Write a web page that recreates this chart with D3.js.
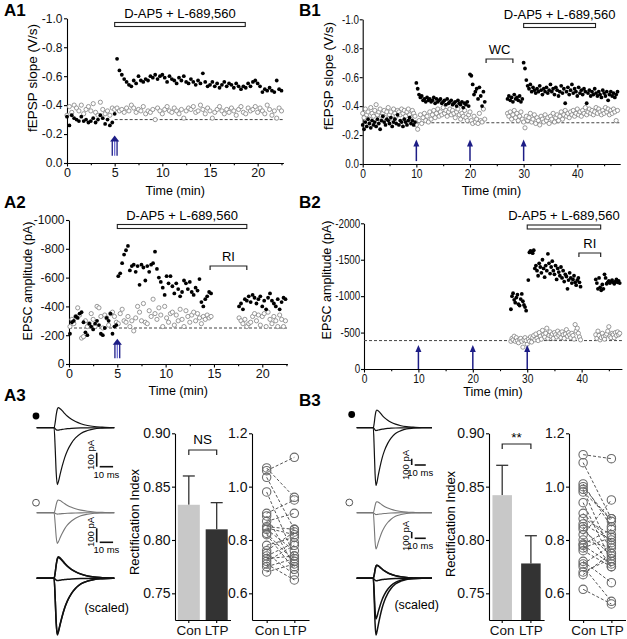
<!DOCTYPE html>
<html><head><meta charset="utf-8">
<script src="https://cdn.jsdelivr.net/npm/d3@7"></script>
<style>
body{margin:0;background:#fff;}
svg{display:block;}
</style></head><body>
<script>
// ================= DATA =================
// A1: fEPSP slope (V/s), sampled every 0.25 min from t=0
const a1T0 = 0, a1Dt = 0.25;
const a1Filled = [-.32,-.26,-.33,-.31,-.30,-.29,-.32,-.29,-.30,-.28,-.29,-.31,-.28,-.30,-.33,-.31,-.27,-.30,-.26,-.28,
 -.34,-.72,-.64,-.61,-.58,-.56,-.54,-.53,-.57,-.55,-.60,-.57,-.56,-.58,-.57,-.60,-.59,-.61,-.58,-.60,
 -.61,-.59,-.56,-.60,-.58,-.57,-.55,-.59,-.57,-.60,-.56,-.55,-.58,-.56,-.54,-.57,-.55,-.62,-.56,-.53,
 -.54,-.56,-.53,-.55,-.52,-.54,-.56,-.53,-.55,-.54,-.52,-.55,-.53,-.51,-.53,-.52,-.55,-.53,-.56,-.57,
 -.55,-.53,-.49,-.51,-.50,-.52,-.50,-.49,-.57,-.51,-.50];
const a1Open = [-.33,-.39,-.35,-.40,-.38,-.36,-.40,-.34,-.37,-.39,-.36,-.41,-.35,-.33,-.42,-.37,-.34,-.36,-.33,-.38,
 -.37,-.38,-.36,-.37,-.35,-.38,-.36,-.40,-.38,-.35,-.37,-.36,-.39,-.34,-.36,-.35,-.37,-.30,-.38,-.36,
 -.34,-.37,-.39,-.36,-.35,-.38,-.36,-.34,-.37,-.31,-.36,-.38,-.37,-.39,-.35,-.36,-.40,-.37,-.34,-.38,
 -.36,-.31,-.35,-.37,-.39,-.36,-.34,-.37,-.35,-.38,-.36,-.33,-.37,-.39,-.35,-.34,-.38,-.36,-.37,-.39,
 -.35,-.38,-.36,-.34,-.40,-.37,-.33,-.36,-.31,-.38,-.36];

// A2: EPSC amplitude (pA), sampled every 0.2 min
const a2Dt = 0.2;
const a2FilledPre = [-210,-290,-300,-330,-320,-350,-360,-290,-220,-200,-280,-260,-240,-280,-300,-270,-210,-200,-250,-320,-300,-350,-210,-260,-270];
const a2FilledPost = [-610,-630,-700,-760,-790,-820,-650,-680,-690,-640,-680,-550,-690,-670,-580,-680,-640,-690,-700,-780,
 -660,-600,-570,-530,-480,-610,-560,-610,-540,-490,-560,-520,-470,-500,-580,-560,-520,-570,-500,-480,
 -530,-510,-590,-430,-400,-450,-470,-500,-490];
const a2FilledLate = [-400,-420,-380,-450,-440,-470,-430,-480,-460,-420,-450,-470,-400,-440,-380,-460,-490,-440,-420,-400,-450,-380,-430,-460,-450];
const a2OpenPre = [-260,-310,-280,-330,-390,-340,-180,-190,-300,-260,-280,-350,-310,-260,-400,-390,-330,-250,-340,-320,-270,-350,-360,-330,-290];
const a2OpenPost = [-280,-350,-380,-300,-290,-330,-260,-300,-230,-320,-400,-360,-300,-420,-290,-280,-370,-330,-450,-350,
 -310,-390,-340,-260,-400,-320,-290,-350,-360,-270,-340,-300,-380,-310,-260,-370,-330,-290,-340,-360,
 -300,-350,-320,-280,-330,-310,-340,-320,-330];
const a2OpenLate = [-320,-300,-280,-310,-260,-280,-290,-330,-350,-300,-340,-270,-330,-350,-260,-360,-310,-280,-330,-300,-260,-340,-310,-260,-300];

// B1: fEPSP slope (V/s), sampled every 0.25 min; gap during whole-cell (WC) break-in
const b1Dt = 0.25;
const b1FilledEarly = [-.27,-.24,-.29,-.26,-.31,-.28,-.25,-.30,-.27,-.29,-.26,-.31,-.28,-.24,-.30,-.33,-.29,-.27,-.31,-.30,
 -.28,-.32,-.26,-.29,-.31,-.28,-.34,-.27,-.30,-.29,-.26,-.31,-.29,-.27,-.30,-.32,-.28,-.30,-.27,-.29,
 -.56,-.52,-.48,-.46,-.47,-.44,-.45,-.43,-.46,-.44,-.45,-.43,-.44,-.46,-.42,-.45,-.43,-.44,-.45,-.42,
 -.43,-.44,-.41,-.45,-.42,-.43,-.44,-.41,-.42,-.43,-.40,-.44,-.42,-.41,-.43,-.39,-.42,-.41,-.43,-.40,
 -.62,-.61,-.55,-.48,-.50,-.52,-.45,-.53,-.47,-.40,-.50,-.43];
const b1FilledLate = [-.45,-.47,-.44,-.46,-.43,-.48,-.45,-.46,-.44,-.47,-.43,-.45,
 -.70,-.66,-.58,-.54,-.52,-.55,-.50,-.53,-.51,-.49,-.52,-.50,-.54,-.51,-.48,-.52,-.50,-.53,-.49,-.51,
 -.55,-.50,-.52,-.48,-.53,-.51,-.47,-.50,-.54,-.49,-.52,-.42,-.50,-.53,-.48,-.51,-.55,-.49,-.52,-.50,
 -.47,-.53,-.49,-.51,-.48,-.52,-.50,-.42,-.49,-.51,-.47,-.50,-.48,-.52,-.49,-.47,-.50,-.48,-.46,-.51,
 -.49,-.47,-.50,-.44,-.48,-.50,-.47,-.49,-.46,-.48,-.50];
const b1OpenEarly = [-.35,-.32,-.38,-.34,-.36,-.31,-.39,-.35,-.33,-.37,-.41,-.34,-.36,-.38,-.33,-.35,-.37,-.32,-.36,-.39,
 -.34,-.36,-.31,-.38,-.35,-.33,-.37,-.36,-.34,-.38,-.35,-.37,-.33,-.36,-.38,-.34,-.32,-.37,-.35,-.33,
 -.27,-.24,-.30,-.34,-.28,-.32,-.35,-.30,-.33,-.29,-.36,-.31,-.34,-.37,-.32,-.35,-.38,-.33,-.36,-.34,
 -.39,-.35,-.37,-.33,-.36,-.38,-.34,-.37,-.35,-.32,-.36,-.38,-.34,-.31,-.35,-.33,-.37,-.32,-.30,-.34,
 -.36,-.30,-.28,-.33,-.29,-.31,-.28,-.35,-.30,-.29,-.38,-.31];
const b1OpenLate = [-.35,-.33,-.36,-.31,-.34,-.37,-.32,-.35,-.30,-.33,-.36,-.31,
 -.29,-.25,-.33,-.30,-.32,-.35,-.29,-.31,-.34,-.28,-.32,-.30,-.27,-.33,-.31,-.29,-.34,-.30,-.32,-.28,
 -.33,-.31,-.35,-.29,-.32,-.34,-.30,-.33,-.36,-.31,-.34,-.37,-.33,-.35,-.32,-.36,-.34,-.37,-.33,-.35,
 -.38,-.34,-.36,-.33,-.37,-.35,-.39,-.34,-.36,-.38,-.35,-.37,-.34,-.36,-.39,-.35,-.38,-.36,-.34,-.37,
 -.35,-.39,-.36,-.38,-.34,-.37,-.35,-.38,-.36,-.30,-.37];
const b1LateT0 = 27;

// B2: EPSC amplitude (pA), sampled every 0.2 min
const b2Dt = 0.2;
const b2FilledPre = [-820,-1000,-1040,-950,-910,-980,-1020,-890,-870,-960,-1030,-930,-880,-850,-800];
const b2FilledMid = [-1220,-1600,-1620,-1610,-1590,-1630,-1380,-1420,-1350,-1280,-1450,-1400,-1320,-1500,-1380,-1260,-1420,-1350,-1580,-1450,
 -1310,-1400,-1480,-1350,-1300,-1420,-1230,-1380,-1330,-1280,-1400,-1250,-1350,-1200,-1300,-1270,-1100,-1220,-1320,-1250,
 -1180,-1230,-1280,-1190,-1150,-1220,-1250,-1190,-1130];
const b2FilledLate = [-1230,-1180,-1100,-1250,-1120,-1080,-1160,-1100,-1300,-1250,-1170,-1190,-1210,-1180,-1200,-1220,-1190,-1170,-1200,-1230,-1190,-1210,-1180];
const b2OpenPre = [-380,-420,-400,-450,-380,-430,-390,-360,-410,-420,-380,-300,-400,-430,-390];
const b2OpenMid = [-340,-410,-380,-440,-370,-430,-460,-400,-480,-420,-390,-500,-450,-410,-530,-470,-440,-490,-560,-420,
 -460,-510,-450,-480,-420,-500,-470,-440,-520,-460,-490,-430,-510,-470,-420,-480,-540,-450,-500,-470,
 -430,-490,-460,-410,-610,-520,-560,-490,-440,-400];
const b2OpenLate = [-470,-420,-520,-460,-400,-430,-490,-440,-410,-460,-480,-520,-580,-450,-430,-490,-470,-430,-500,-460,-510,-470,-490];

// Events (min)
const a1Drug = [5, 18.7], a2Drug = [5, 18.4], b1Drug = [30, 43.4], b2Drug = [30, 43.5];
const a1Stim = [5], a2Stim = [5], b1Stim = [10, 20, 30], b2Stim = [10, 20, 30];
const b1WC = [23, 28], a2RI = [14.6, 18.4], b2RI = [39.5, 43.5];
const a1Base = -0.30, a2Base = -250, b1Base = -0.285, b2Base = -390;

// Rectification index
const riCats = ["Con", "LTP"];
const a3Mean = [0.833, 0.810], a3Sem = [0.027, 0.025];
const b3Mean = [0.842, 0.778], b3Sem = [0.028, 0.026];
const a3Con = [1.07,1.06,1.035,0.98,0.90,0.89,0.87,0.85,0.845,0.84,0.825,0.78,0.76,0.75,0.73,0.72,0.71,0.70,0.68,0.74,0.82];
const a3Ltp = [0.96,1.11,0.84,0.74,0.95,0.70,0.90,0.84,0.82,0.76,0.72,0.81,0.83,0.67,0.74,0.78,0.65,0.73,0.71,0.79,0.69];
const b3Con = [1.12,1.09,1.01,1.00,0.99,0.98,0.94,0.90,0.88,0.86,0.85,0.84,0.82,0.80,0.785,0.78,0.77,0.76,0.72,0.71,0.70,0.68,0.67,0.615];
const b3Ltp = [1.105,0.88,0.85,0.87,0.75,0.88,0.72,0.79,0.82,0.80,0.70,0.74,0.95,0.77,0.84,0.71,0.81,0.70,0.64,0.78,0.57,0.73,0.75,0.56];

// Example EPSC traces: normalised waveform (ms from stimulus) and peak amplitudes (pA)
const traceT   = [0, 0.8, 1.6, 2.4, 3.2, 4.5, 6, 8, 10, 13, 16, 20, 25, 30, 36, 44];
const traceIn  = [0, 0.35, 0.8, 1.0, 0.95, 0.82, 0.68, 0.52, 0.40, 0.27, 0.18, 0.10, 0.05, 0.02, 0.008, 0];
const traceOut = [0, 0.25, 0.65, 0.92, 1.0, 0.95, 0.85, 0.70, 0.57, 0.42, 0.31, 0.20, 0.11, 0.06, 0.03, 0];
const a3Amps = [[-407, 143, -18], [-219, 91, -10], [-405, -398, 154, 148, -16]];
const b3Amps = [[-920, 281, -45], [-576, 175, -30], [-900, -646, 211, 205, -40]];

// ================= DRAWING =================
const W = 627, H = 639;
const FONT = '"Liberation Sans", Arial, Helvetica, sans-serif';
const svg = d3.select("body").append("svg").attr("width", W).attr("height", H)
  .style("font-family", FONT);

function styleAxis(g, fs, sx) {
  g.selectAll(".domain").attr("stroke", "#000").attr("stroke-width", 1.1);
  g.selectAll(".tick line").attr("stroke", "#000").attr("stroke-width", 1.1);
  const t = g.selectAll("text").attr("font-family", FONT).attr("font-size", fs).attr("fill", "#111");
  if (sx && sx !== 1) t.attr("transform", `scale(${sx},1)`);
}
function segPts(t0, dt, vals) { return vals.map((v, i) => ({ t: t0 + i * dt, v })); }

function timePanel(p) {
  const x = d3.scaleLinear().domain(p.xd).range(p.xr);
  const y = d3.scaleLinear().domain(p.yd).range(p.yr);
  const g = svg.append("g");
  const ax = g.append("g").attr("transform", `translate(0,${p.yr[0]})`)
    .call(d3.axisBottom(x).tickValues(p.xt).tickSize(3.5).tickSizeOuter(0).tickPadding(1.5));
  styleAxis(ax, 12.5, p.sx);
  const axm = g.append("g").attr("transform", `translate(0,${p.yr[0]})`)
    .call(d3.axisBottom(x).tickValues(p.xm).tickSize(2.2).tickFormat(""));
  styleAxis(axm, 12); axm.select(".domain").remove();
  const ay = g.append("g").attr("transform", `translate(${p.xr[0]},0)`)
    .call(d3.axisLeft(y).tickValues(p.yt).tickFormat(p.yf).tickSize(3).tickSizeOuter(0).tickPadding(1.5));
  styleAxis(ay, 12, p.sx);
  g.append("text").attr("x", (p.xr[0] + p.xr[1]) / 2).attr("y", p.xly).attr("text-anchor", "middle")
    .attr("font-size", 12.5).text("Time (min)");
  g.append("text").attr("transform", `translate(${p.ylx},${p.yly}) rotate(-90)`).attr("text-anchor", "middle")
    .attr("font-size", p.ylfs).text(p.yl);
  g.append("line").attr("x1", x(p.dashFrom)).attr("x2", p.xr[1]).attr("y1", y(p.base)).attr("y2", y(p.base))
    .attr("stroke", "#444").attr("stroke-width", 1).attr("stroke-dasharray", "3,2");
  g.append("g").selectAll("circle").data(p.open).join("circle")
    .attr("cx", d => x(d.t)).attr("cy", d => y(d.v)).attr("r", 2.1)
    .attr("fill", "#fff").attr("stroke", "#808080").attr("stroke-width", 0.8);
  g.append("g").selectAll("circle").data(p.filled).join("circle")
    .attr("cx", d => x(d.t)).attr("cy", d => y(d.v)).attr("r", 1.9).attr("fill", "#000");
  const bx0 = x(p.drug[0]), bx1 = x(p.drug[1]);
  g.append("rect").attr("x", bx0).attr("y", p.drugY).attr("width", bx1 - bx0).attr("height", 4)
    .attr("fill", "#fff").attr("stroke", "#222").attr("stroke-width", 1.1);
  g.append("text").attr("x", (bx0 + bx1) / 2).attr("y", p.drugY - 5).attr("text-anchor", "middle")
    .attr("font-size", 13).text("D-AP5 + L-689,560");
  if (p.br) {
    const x0 = x(p.br[0]), x1 = x(p.br[1]);
    g.append("path").attr("d", `M${x0},${p.brY + 4}V${p.brY}H${x1}V${p.brY + 4}`)
      .attr("fill", "none").attr("stroke", "#222").attr("stroke-width", 1.2);
    g.append("text").attr("x", (x0 + x1) / 2).attr("y", p.brY - 5).attr("text-anchor", "middle")
      .attr("font-size", 13).text(p.brText);
  }
  const navy = "#1d1d86";
  p.stim.forEach(t => {
    const cx = x(t), yb = y(p.arrFrom), yt = y(p.arrTo);
    if (p.triple) {
      [-2.4, 0, 2.4].forEach((dx, i) => g.append("line").attr("x1", cx + dx).attr("x2", cx + dx)
        .attr("y1", yb).attr("y2", yt + 5).attr("stroke", i === 1 ? "#7070d8" : navy).attr("stroke-width", 1.3));
      g.append("path").attr("d", `M${cx - 4.6},${yt + 6}L${cx + 4.6},${yt + 6}L${cx},${yt}Z`).attr("fill", navy);
    } else {
      g.append("line").attr("x1", cx).attr("x2", cx).attr("y1", yb).attr("y2", yt + 5)
        .attr("stroke", navy).attr("stroke-width", 1.5);
      g.append("path").attr("d", `M${cx - 3},${yt + 7}L${cx + 3},${yt + 7}L${cx},${yt}Z`).attr("fill", navy);
    }
  });
}

const f1 = d => d.toFixed(1);
const f0 = d => String(d);

timePanel({ xd: [0, 22.7], xr: [67, 283.4], yd: [0, -1.0], yr: [163, 18.3], sx: 1,
  xt: [0, 5, 10, 15, 20], xm: [2.5, 7.5, 12.5, 17.5, 22.5], yt: [0, -0.2, -0.4, -0.6, -0.8, -1.0], yf: f1,
  xly: 195, yl: "fEPSP slope (V/s)", ylx: 37, yly: 78, ylfs: 13.5,
  base: a1Base, dashFrom: 5,
  open: segPts(a1T0, a1Dt, a1Open), filled: segPts(a1T0, a1Dt, a1Filled),
  drug: a1Drug, drugY: 22.5, stim: a1Stim, triple: true, arrFrom: -0.05, arrTo: -0.19 });

timePanel({ xd: [0, 48], xr: [362.7, 620.2], yd: [0, -1.0], yr: [164, 19.3], sx: 0.82,
  xt: [0, 10, 20, 30, 40], xm: [5, 15, 25, 35, 45], yt: [0, -0.2, -0.4, -0.6, -0.8, -1.0], yf: f1,
  xly: 195, yl: "fEPSP slope (V/s)", ylx: 333, yly: 76, ylfs: 13.5,
  base: b1Base, dashFrom: 10,
  open: segPts(0, b1Dt, b1OpenEarly).concat(segPts(b1LateT0, b1Dt, b1OpenLate)),
  filled: segPts(0, b1Dt, b1FilledEarly).concat(segPts(b1LateT0, b1Dt, b1FilledLate)),
  drug: b1Drug, drugY: 23.5, br: b1WC, brY: 59, brText: "WC",
  stim: b1Stim, triple: false, arrFrom: -0.02, arrTo: -0.17 });

timePanel({ xd: [0, 22.6], xr: [69, 287.4], yd: [0, -1000], yr: [364, 220], sx: 1,
  xt: [0, 5, 10, 15, 20], xm: [2.5, 7.5, 12.5, 17.5, 22.5], yt: [0, -200, -400, -600, -800, -1000], yf: f0,
  xly: 395, yl: "EPSC amplitude (pA)", ylx: 32, yly: 281, ylfs: 12.5,
  base: a2Base, dashFrom: 0,
  open: segPts(0.1, a2Dt, a2OpenPre).concat(segPts(5.1, a2Dt, a2OpenPost), segPts(17.6, a2Dt, a2OpenLate)),
  filled: segPts(0.1, a2Dt, a2FilledPre).concat(segPts(5.1, a2Dt, a2FilledPost), segPts(17.6, a2Dt, a2FilledLate)),
  drug: a2Drug, drugY: 224.5, br: a2RI, brY: 266, brText: "RI",
  stim: a2Stim, triple: true, arrFrom: -40, arrTo: -175 });

timePanel({ xd: [0, 47.4], xr: [364, 621.9], yd: [0, -2000], yr: [369, 223.3], sx: 0.82,
  xt: [0, 10, 20, 30, 40], xm: [5, 15, 25, 35, 45], yt: [0, -500, -1000, -1500, -2000], yf: f0,
  xly: 396, yl: "EPSC amplitude (pA)", ylx: 331, yly: 280, ylfs: 12.5,
  base: b2Base, dashFrom: 0,
  open: segPts(27, b2Dt, b2OpenPre).concat(segPts(30.0, b2Dt, b2OpenMid), segPts(42.6, b2Dt, b2OpenLate)),
  filled: segPts(27, b2Dt, b2FilledPre).concat(segPts(30.2, b2Dt, b2FilledMid), segPts(42.6, b2Dt, b2FilledLate)),
  drug: b2Drug, drugY: 225, br: b2RI, brY: 253, brText: "RI",
  stim: b2Stim, triple: false, arrFrom: 0, arrTo: -330 });

// ---- bar charts ----
function barPanel(p) {
  const y = d3.scaleLinear().domain([0.725, 0.90]).range([620, 433.3]);
  const x = d3.scaleBand().domain(riCats).range(p.xr).paddingInner(p.pi).paddingOuter(p.po);
  const g = svg.append("g");
  const colors = ["#c8c8c8", "#333333"];
  riCats.forEach((c, i) => {
    const cx = x(c) + x.bandwidth() / 2;
    g.append("line").attr("x1", cx).attr("x2", cx).attr("y1", y(p.mean[i])).attr("y2", y(p.mean[i] + p.sem[i]))
      .attr("stroke", "#333").attr("stroke-width", 1.3);
    g.append("line").attr("x1", cx - 6).attr("x2", cx + 6).attr("y1", y(p.mean[i] + p.sem[i])).attr("y2", y(p.mean[i] + p.sem[i]))
      .attr("stroke", "#333").attr("stroke-width", 1.3);
    g.append("rect").attr("x", x(c)).attr("y", y(p.mean[i])).attr("width", x.bandwidth())
      .attr("height", 620 - y(p.mean[i])).attr("fill", colors[i]);
  });
  const ay = g.append("g").attr("transform", `translate(${p.xr[0]},0)`)
    .call(d3.axisLeft(y).tickValues([0.75, 0.80, 0.85, 0.90]).tickFormat(d => d.toFixed(2)).tickSize(3).tickSizeOuter(0).tickPadding(1.5));
  styleAxis(ay, 14);
  const ax = g.append("g").attr("transform", "translate(0,620)")
    .call(d3.axisBottom(x).tickSize(3).tickSizeOuter(0).tickPadding(2));
  styleAxis(ax, 13.5);
  const c0 = x("Con") + x.bandwidth() / 2, c1 = x("LTP") + x.bandwidth() / 2;
  g.append("path").attr("d", `M${c0},${p.brY + 5}V${p.brY}H${c1}V${p.brY + 5}`)
    .attr("fill", "none").attr("stroke", "#222").attr("stroke-width", 1.2);
  g.append("text").attr("x", (c0 + c1) / 2).attr("y", p.sigY).attr("text-anchor", "middle")
    .attr("font-size", 13.5).text(p.sig);
  g.append("text").attr("transform", `translate(${p.ylx},${p.yly}) rotate(-90)`).attr("text-anchor", "middle")
    .attr("font-size", 13).text("Rectification Index");
}
barPanel({ xr: [175, 230.5], pi: 0.21, po: 0.1, mean: a3Mean, sem: a3Sem, brY: 450, sig: "NS", sigY: 444, ylx: 139, yly: 522 });
barPanel({ xr: [489, 544.1], pi: 0.32, po: 0.12, mean: b3Mean, sem: b3Sem, brY: 444, sig: "**", sigY: 442, ylx: 455, yly: 524 });

// ---- paired scatter ----
function pairPanel(p) {
  const y = d3.scaleLinear().domain([0.5, 1.2]).range([620, 433.3]);
  const x = d3.scalePoint().domain(riCats).range(p.xr).padding(p.pad);
  const g = svg.append("g");
  const pairs = p.con.map((c, i) => [c, p.ltp[i]]);
  g.selectAll("line.pair").data(pairs).join("line")
    .attr("x1", x("Con")).attr("x2", x("LTP")).attr("y1", d => y(d[0])).attr("y2", d => y(d[1]))
    .attr("stroke", "#555").attr("stroke-width", 1).attr("stroke-dasharray", "3,2");
  const pts = pairs.flatMap(d => [{ c: "Con", v: d[0] }, { c: "LTP", v: d[1] }]);
  g.selectAll("circle").data(pts).join("circle").attr("cx", d => x(d.c)).attr("cy", d => y(d.v))
    .attr("r", 4.2).attr("fill", "none").attr("stroke", "#6a6a6a").attr("stroke-width", 1.1);
  const ay = g.append("g").attr("transform", `translate(${p.xr[0]},0)`)
    .call(d3.axisLeft(y).tickValues([0.6, 0.8, 1.0, 1.2]).tickFormat(d => d.toFixed(1)).tickSize(3).tickSizeOuter(0).tickPadding(1.5));
  styleAxis(ay, 14);
  const ax = g.append("g").attr("transform", "translate(0,620)")
    .call(d3.axisBottom(x).tickSize(3).tickSizeOuter(0).tickPadding(2));
  styleAxis(ax, 13.5);
}
pairPanel({ xr: [252, 309], pad: 0.53, con: a3Con, ltp: a3Ltp });
pairPanel({ xr: [569, 625.5], pad: 0.5, con: b3Con, ltp: b3Ltp });

// ---- example traces ----
function tracePanel(p) {
  const x = d3.scaleLinear().domain(p.td).range(p.xr);
  const g = svg.append("g");
  const lineGen = d3.line().x(d => x(d[0])).y(d => d[1]).curve(d3.curveMonotoneX);
  p.amps.forEach((amps, gi) => {
    const base = p.bases[gi];
    amps.forEach(a => {
      const shape = a < 0 ? traceIn : traceOut;
      const pts = [[p.td[0], base], [-0.3, base]];
      traceT.forEach((t, i) => { if (t <= p.td[1]) pts.push([t, base - a * p.k * shape[i]]); });
      pts.push([p.td[1], base]);
      g.append("path").attr("d", lineGen(pts))
        .attr("fill", "none").attr("stroke", p.colors[gi]).attr("stroke-width", p.widths[gi]);
    });
  });
  p.sb.forEach(s => {
    const len = 100 * p.k, w = x(10) - x(0);
    g.append("line").attr("x1", s.x).attr("x2", s.x).attr("y1", s.y - len).attr("y2", s.y)
      .attr("stroke", "#111").attr("stroke-width", 1.6);
    g.append("line").attr("x1", s.x + 3).attr("x2", s.x + 3 + w).attr("y1", s.y).attr("y2", s.y)
      .attr("stroke", "#111").attr("stroke-width", 1.6);
    g.append("text").attr("transform", `translate(${s.x - 3},${s.ty}) rotate(-90)`).attr("text-anchor", "middle")
      .attr("font-size", 9.5).text("100 pA");
    g.append("text").attr("x", s.x + 3 + w / 2).attr("y", s.y + 11).attr("text-anchor", "middle")
      .attr("font-size", 9.5).text("10 ms");
  });
  g.append("circle").attr("cx", p.dot[0]).attr("cy", p.dot[1]).attr("r", 3.4).attr("fill", "#000");
  g.append("circle").attr("cx", p.ring[0]).attr("cy", p.ring[1]).attr("r", 3.4).attr("fill", "#fff")
    .attr("stroke", "#555").attr("stroke-width", 1);
  g.append("text").attr("x", p.scaled[0]).attr("y", p.scaled[1]).attr("text-anchor", "middle")
    .attr("font-size", 12.5).text("(scaled)");
}
tracePanel({ td: [-13, 45], xr: [36.7, 114.3], k: 0.14, amps: a3Amps, bases: [427.7, 512.7, 578.3],
  colors: ["#111", "#777", "#111"], widths: [1.2, 1.1, 1.5],
  sb: [{ x: 96.7, y: 466.7, ty: 455 }, { x: 96.7, y: 542.3, ty: 532 }],
  dot: [36, 416], ring: [36, 502.7], scaled: [106.7, 612] });
tracePanel({ td: [-15, 53], xr: [356.7, 432], k: 0.063, amps: b3Amps, bases: [427.7, 512.7, 578.3],
  colors: ["#111", "#777", "#111"], widths: [1.2, 1.1, 1.5],
  sb: [{ x: 411.7, y: 465, ty: 465 }, { x: 411.7, y: 538.3, ty: 536 }],
  dot: [351.7, 414.5], ring: [349.3, 502.5], scaled: [416.7, 609] });

// ---- panel labels ----
[["A1", 4, 16], ["B1", 299, 16], ["A2", 4, 208], ["B2", 299, 208], ["A3", 4, 401], ["B3", 299, 406]].forEach(d =>
  svg.append("text").attr("x", d[1]).attr("y", d[2]).attr("font-size", 17).attr("font-weight", "bold").text(d[0]));
</script></body></html>
